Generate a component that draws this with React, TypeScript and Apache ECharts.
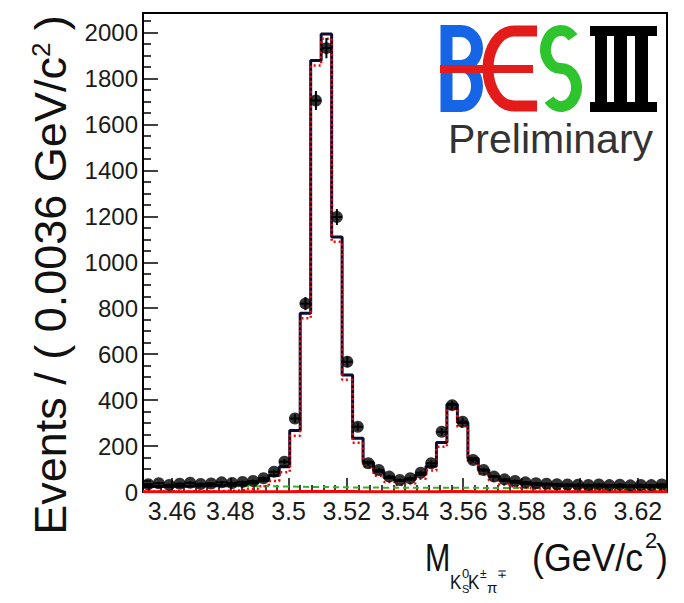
import React, { useEffect, useRef } from "react";
import * as echarts from "echarts";

// Histogram binning of the invariant mass (GeV/c^2)
const X_MIN = 3.45;
const X_MAX = 3.63;
const BIN_WIDTH = 0.0036;
const Y_MAX = 2085;

// Axis tick values
const xTickValues = [3.46, 3.48, 3.5, 3.52, 3.54, 3.56, 3.58, 3.6, 3.62];
const yTickValues = [0, 200, 400, 600, 800, 1000, 1200, 1400, 1600, 1800, 2000];

// Observed events per bin (50 bins)
const dataCounts = [
  34, 38, 31, 36, 40, 35, 37, 42, 39, 44,
  48, 60, 88, 132, 320, 820, 1704, 1932, 1197, 567,
  284, 125, 96, 67, 52, 60, 84, 125, 262, 378,
  306, 139, 96, 67, 55, 48, 42, 38, 36, 34,
  33, 32, 31, 33, 30, 32, 29, 31, 30, 33,
];

// Total fit per bin
const fitTotal = [
  24, 24, 25, 25, 26, 27, 28, 29, 31, 34,
  39, 50, 72, 110, 268, 778, 1878, 1994, 1110, 509,
  234, 130, 90, 62, 50, 56, 76, 112, 215, 382,
  302, 146, 96, 68, 50, 42, 36, 32, 30, 28,
  27, 26, 26, 25, 25, 24, 24, 24, 24, 23,
];

// Signal component (chi_cJ shapes)
const fitSignal = [
  2, 2, 2, 2, 3, 3, 4, 5, 6, 9,
  14, 25, 48, 86, 245, 756, 1856, 1973, 1089, 489,
  214, 110, 71, 43, 31, 37, 58, 94, 197, 364,
  284, 128, 79, 51, 33, 25, 19, 15, 14, 12,
  11, 10, 10, 9, 9, 8, 9, 9, 9, 8,
];

// Smooth background component
const fitBackground = [
  22, 22, 23, 23, 23, 24, 24, 24, 25, 25,
  25, 25, 24, 24, 23, 22, 22, 21, 21, 20,
  20, 20, 19, 19, 19, 19, 18, 18, 18, 18,
  18, 18, 17, 17, 17, 17, 17, 17, 16, 16,
  16, 16, 16, 16, 16, 16, 15, 15, 15, 15,
];

// Peaking background component
const fitPeaking = [
  1, 1, 1, 1, 1, 1, 1, 1, 1, 1,
  1, 1, 1, 1, 2, 2, 2, 2, 2, 2,
  1, 1, 1, 1, 1, 1, 1, 1, 2, 2,
  2, 1, 1, 1, 1, 1, 1, 1, 1, 1,
  1, 1, 1, 1, 1, 1, 1, 1, 1, 1,
];

const FONT = "'Liberation Sans', Arial, Helvetica, sans-serif";

// Minor tick positions (5 subdivisions on x, 4 on y)
const xMinorTicks: number[] = [];
for (let k = 3452; k <= 3628; k += 4) {
  if ((k - 3460) % 20 !== 0) xMinorTicks.push(k / 1000);
}
const yMinorTicks: number[] = [];
for (let k = 50; k <= 2050; k += 50) {
  if (k % 200 !== 0) yMinorTicks.push(k);
}

const binEdge = (i: number) => X_MIN + i * BIN_WIDTH;
const binCenter = (i: number) => X_MIN + (i + 0.5) * BIN_WIDTH;

// Convert per-bin values into a stepped outline
const stepOutline = (vals: number[]) => {
  const pts: number[][] = [];
  vals.forEach((v, i) => {
    pts.push([binEdge(i), v], [binEdge(i + 1), v]);
  });
  return pts;
};

// BESIII logo letter outlines (stroked)
const besB =
  "M6.5,0 V87 M0.5,6 H21 A16,17.5 0 0 1 21,41 H6.5 M6.5,41 H21 A16,20 0 0 1 21,81 H0.5";
const besE = "M97,6 H74 A26,37.5 0 0 0 74,81 H97";
const besS = "M132.9,12.3 A15.5,19 0 1 0 121,43.5 A15.5,19 0 1 1 109.1,74.7";

echarts.graphic.registerShape("besB", echarts.graphic.extendPath(besB, {}));
echarts.graphic.registerShape("besE", echarts.graphic.extendPath(besE, {}));
echarts.graphic.registerShape("besS", echarts.graphic.extendPath(besS, {}));

const buildOption = () => {
  const points = dataCounts.map((n, i) => [binCenter(i), n, Math.sqrt(n)]);

  const lineSeries = (
    name: string,
    vals: number[],
    color: string,
    width: number,
    type: any,
    z: number
  ) => ({
    name,
    type: "line",
    data: stepOutline(vals),
    showSymbol: false,
    symbol: "none",
    clip: true,
    z,
    lineStyle: { color, width, type },
  });

  const smallText = (text: string, x: number, y: number, size: number, scaleX = 1) => ({
    type: "text",
    x,
    y,
    scaleX,
    style: {
      text,
      fontSize: size,
      fontFamily: FONT,
      fill: "#111",
      align: "left",
      verticalAlign: "middle",
    },
  });

  return {
    animation: false,
    backgroundColor: "#fff",
    grid: {
      left: 143,
      top: 13,
      right: 17,
      bottom: 111,
      show: true,
      borderColor: "#000",
      borderWidth: 2,
      backgroundColor: "transparent",
    },
    xAxis: [
      {
        type: "value",
        min: X_MIN,
        max: X_MAX,
        position: "bottom",
        axisLine: { show: true, onZero: false, lineStyle: { color: "#000", width: 2 } },
        axisTick: {
          show: true,
          inside: true,
          length: 14,
          customValues: xTickValues,
          lineStyle: { color: "#000", width: 1.5 },
        },
        axisLabel: {
          customValues: xTickValues,
          formatter: (v: number) => String(v),
          fontSize: 25,
          fontFamily: FONT,
          color: "#1a1a1a",
          margin: 6,
        },
        splitLine: { show: false },
      },
      {
        type: "value",
        min: X_MIN,
        max: X_MAX,
        position: "bottom",
        axisLine: { show: false },
        axisTick: {
          show: true,
          inside: true,
          length: 7,
          customValues: xMinorTicks,
          lineStyle: { color: "#000", width: 1.5 },
        },
        axisLabel: { show: false },
        splitLine: { show: false },
      },
    ],
    yAxis: [
      {
        type: "value",
        min: 0,
        max: Y_MAX,
        position: "left",
        axisLine: { show: true, onZero: false, lineStyle: { color: "#000", width: 2 } },
        axisTick: {
          show: true,
          inside: true,
          length: 15,
          customValues: yTickValues,
          lineStyle: { color: "#000", width: 1.5 },
        },
        axisLabel: {
          customValues: yTickValues,
          formatter: (v: number) => String(v),
          fontSize: 24,
          fontFamily: FONT,
          color: "#1a1a1a",
          margin: 5,
        },
        splitLine: { show: false },
      },
      {
        type: "value",
        min: 0,
        max: Y_MAX,
        position: "left",
        axisLine: { show: false },
        axisTick: {
          show: true,
          inside: true,
          length: 8,
          customValues: yMinorTicks,
          lineStyle: { color: "#000", width: 1.5 },
        },
        axisLabel: { show: false },
        splitLine: { show: false },
      },
    ],
    series: [
      lineSeries("Background", fitBackground, "#2fb62f", 2, [6, 4], 2),
      lineSeries("Peaking background", fitPeaking, "#ff0000", 3, "solid", 3),
      lineSeries("Total fit", fitTotal, "#0d0d30", 3, "solid", 4),
      lineSeries("Signal", fitSignal, "#ff0000", 2.5, [2, 3], 5),
      {
        name: "Data errors",
        type: "custom",
        z: 6,
        clip: true,
        data: points,
        encode: { x: 0, y: 1 },
        renderItem: (_params: any, api: any) => {
          const xc = api.value(0);
          const y = api.value(1);
          const e = api.value(2);
          const l = api.coord([xc - BIN_WIDTH / 2, y]);
          const r = api.coord([xc + BIN_WIDTH / 2, y]);
          const t = api.coord([xc, y + e]);
          const b = api.coord([xc, Math.max(0, y - e)]);
          return {
            type: "group",
            children: [
              {
                type: "line",
                shape: { x1: l[0], y1: l[1], x2: r[0], y2: r[1] },
                style: { stroke: "#000", lineWidth: 2 },
              },
              {
                type: "line",
                shape: { x1: t[0], y1: t[1], x2: b[0], y2: b[1] },
                style: { stroke: "#000", lineWidth: 2 },
              },
            ],
          };
        },
      },
      {
        name: "Data",
        type: "scatter",
        z: 7,
        symbol: "circle",
        symbolSize: 12,
        data: points.map((p) => [p[0], p[1]]),
        itemStyle: { color: "#000" },
      },
    ],
    graphic: [
      {
        type: "group",
        x: 440,
        y: 25,
        children: [
          { type: "besB", style: { fill: "none", stroke: "#1565e6", lineWidth: 12 } },
          { type: "besE", style: { fill: "none", stroke: "#e41b1b", lineWidth: 11 } },
          {
            type: "line",
            shape: { x1: 0, y1: 44, x2: 93, y2: 44 },
            style: { stroke: "#e41b1b", lineWidth: 8 },
          },
          { type: "besS", style: { fill: "none", stroke: "#2ec42e", lineWidth: 11 } },
          { type: "rect", shape: { x: 150, y: 1, width: 67, height: 10 }, style: { fill: "#000" } },
          { type: "rect", shape: { x: 150, y: 77, width: 67, height: 10 }, style: { fill: "#000" } },
          { type: "rect", shape: { x: 155, y: 1, width: 12, height: 86 }, style: { fill: "#000" } },
          { type: "rect", shape: { x: 174, y: 1, width: 13, height: 86 }, style: { fill: "#000" } },
          { type: "rect", shape: { x: 195, y: 1, width: 13, height: 86 }, style: { fill: "#000" } },
        ],
      },
      {
        type: "text",
        x: 448,
        y: 139,
        style: {
          text: "Preliminary",
          fontSize: 41,
          fontFamily: FONT,
          fill: "#333",
          align: "left",
          verticalAlign: "middle",
        },
      },
      {
        type: "text",
        x: 50,
        y: 275,
        rotation: Math.PI / 2,
        style: {
          text: "Events / ( 0.0036 GeV/c{sup|2} )",
          fontSize: 45,
          fontFamily: FONT,
          fill: "#111",
          align: "center",
          verticalAlign: "middle",
          rich: {
            sup: { fontSize: 26, fontFamily: FONT, fill: "#111", verticalAlign: "top" },
          },
        },
      },
      smallText("M", 425, 558, 38, 0.8),
      smallText("K", 450, 582, 20, 0.85),
      smallText("0", 462, 573, 13),
      smallText("S", 462, 589, 11),
      smallText("K", 468, 582, 20, 0.85),
      smallText("\u00b1", 480, 574, 12),
      smallText("\u03c0", 487, 587, 15),
      smallText("\u2213", 496.5, 574, 12),
      smallText("(GeV/c", 532, 558, 38, 0.94),
      smallText("2", 645, 540, 22),
      smallText(")", 656, 558, 38, 0.94),
    ],
  };
};

export default function App() {
  const ref = useRef<HTMLDivElement>(null);
  useEffect(() => {
    if (!ref.current) return;
    const chart = echarts.init(ref.current, null, { renderer: "svg" });
    chart.setOption(buildOption() as any);
    return () => chart.dispose();
  }, []);
  return (
    <div
      ref={ref}
      style={{ position: "absolute", left: 0, top: 0, width: 684, height: 603, background: "#fff" }}
    />
  );
}
